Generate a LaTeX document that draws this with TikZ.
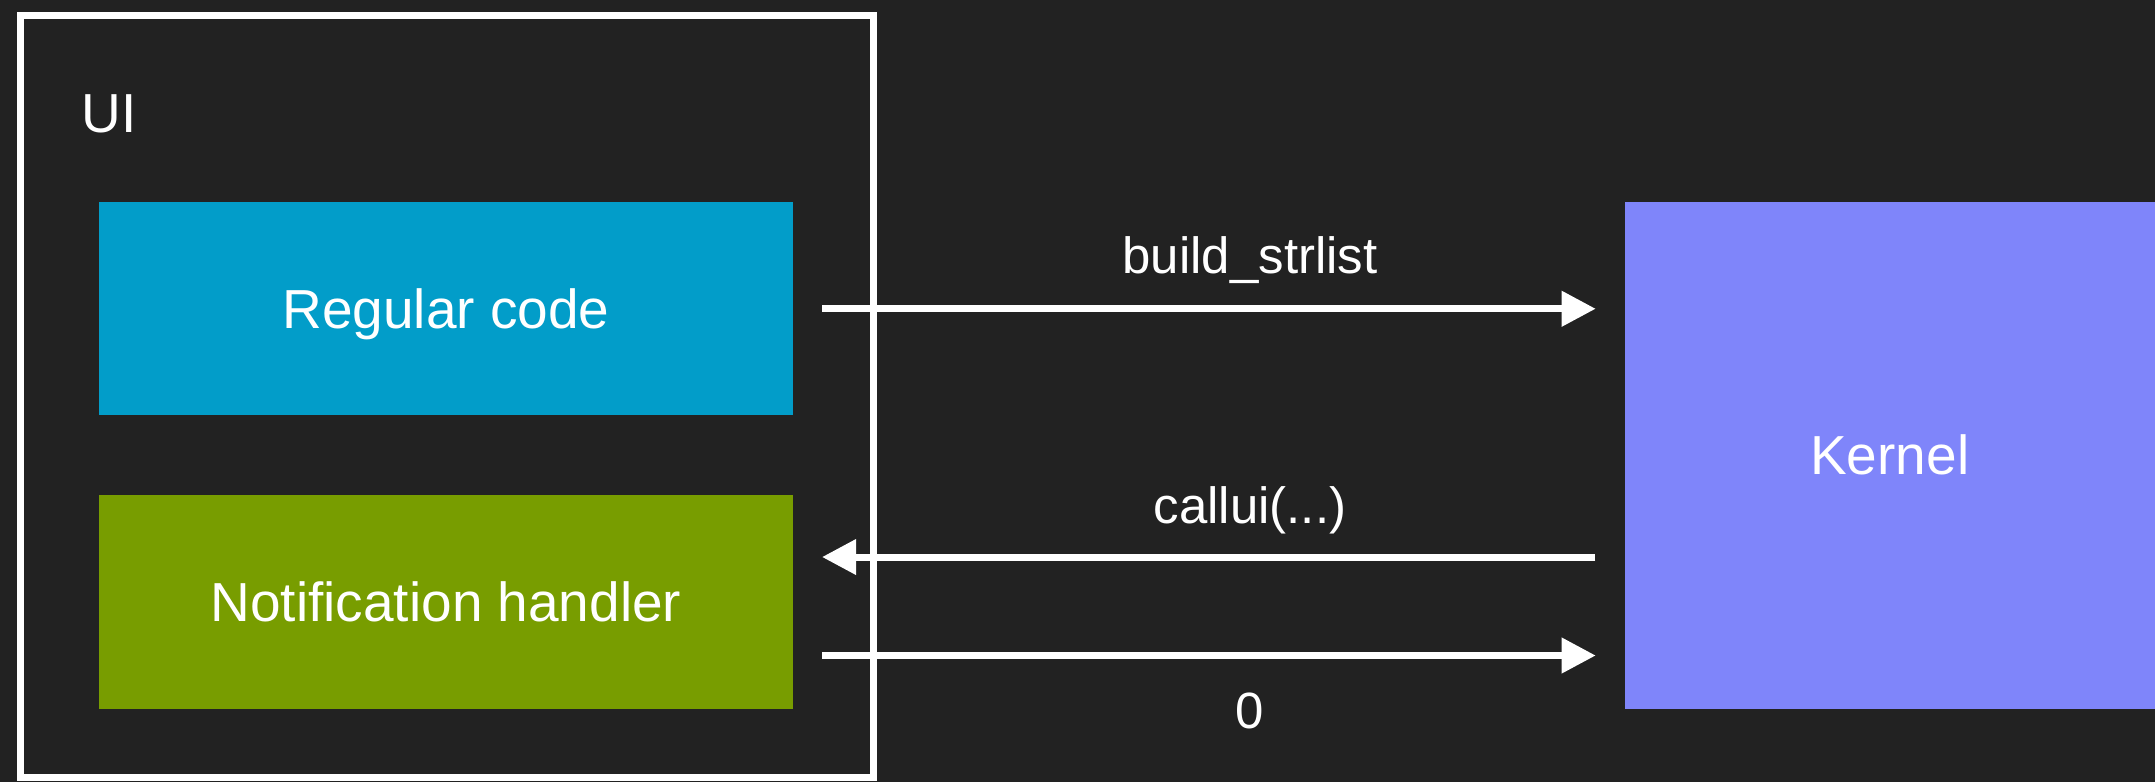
\documentclass[tikz,border=0pt]{standalone}
\usepackage{fontspec}
\setmainfont{Liberation Sans}
\usetikzlibrary{arrows.meta}
\definecolor{bgdark}{HTML}{222222}
\definecolor{regblue}{HTML}{029DC9}
\definecolor{notegreen}{HTML}{789D00}
\definecolor{kernviolet}{HTML}{7F85FA}
\begin{document}
\begin{tikzpicture}[x=0.02cm,y=-0.02cm,>={Triangle[length=0.68cm,width=0.68cm]},
		every node/.style={text=white,font=\fontsize{31.3pt}{37pt}\selectfont},
		box/.style={rectangle,inner sep=0pt,text height=22.4pt,text depth=0pt},
		lbl/.style={anchor=base,font=\fontsize{29pt}{35pt}\selectfont},
		flow/.style={->,white,line width=0.14cm,shorten <=0.575cm,shorten >=0.57cm}]
			\fill[bgdark] (0,0) rectangle (2155,782);
			\node[draw=white,line width=0.14cm,minimum width=17.07cm,minimum height=15.26cm,inner sep=0pt] (ui) at (446.75,396.5) {};
			\node[box,anchor=west] (uilabel) at (81.5,113) {UI};
			\node[box,fill=regblue,minimum width=13.89cm,minimum height=4.27cm] (regular) at (446,308.75) {Regular code};
			\node[box,fill=notegreen,minimum width=13.89cm,minimum height=4.27cm] (notif) at (446,602) {Notification handler};
			\node[box,fill=kernviolet,minimum width=10.61cm,minimum height=10.14cm] (kernel) at (1889.75,455.2) {Kernel};
			\coordinate (callin) at ([yshift=0.9cm]notif.east);
			\coordinate (retout) at ([yshift=-1.07cm]notif.east);
			\draw[flow] (regular.east) -- (regular.east -| kernel.west);
			\draw[flow] (callin -| kernel.west) -- (callin);
			\draw[flow] (retout) -- (retout -| kernel.west);
			\node[lbl] (lbuild) at (1250,273) {build\_strlist};
			\node[lbl] (lcall) at (1250,523) {callui(...)};
			\node[lbl] (lzero) at (1250,728.5) {0};
	\end{tikzpicture}
\end{document}
